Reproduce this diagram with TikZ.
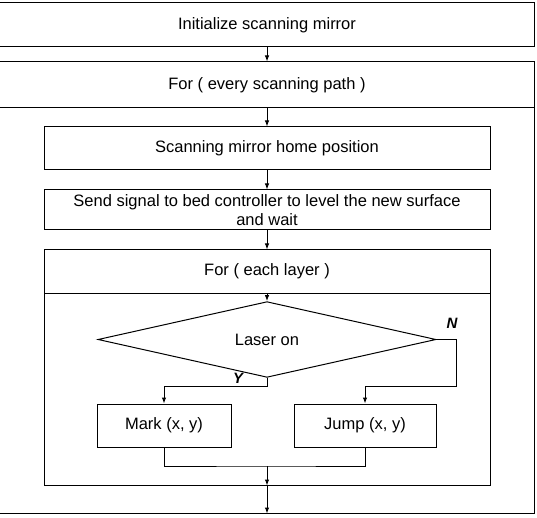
\documentclass[tikz,border=0pt]{standalone}
\usepackage{fontspec}
\setmainfont{Liberation Sans}
\usetikzlibrary{arrows.meta,shapes.geometric}

\begin{document}
\begin{tikzpicture}[x=1pt, y=1pt, font=\fontsize{16.5}{19.5}\selectfont,
  >={Latex[length=6pt,width=4.5pt]}, line width=1pt,
  box/.style={draw, rectangle, inner sep=0pt, align=center},
  decision/.style={draw, diamond, inner sep=0pt},
  branch/.style={font=\fontsize{15}{18}\selectfont\bfseries\itshape}]
\useasboundingbox (0,0) rectangle (537,517);
% outer loop
\node[box, minimum width=535, minimum height=44] (init) at (267,492) {Initialize scanning mirror};
\node[box, minimum width=535, minimum height=451] (pathbody) at (267,229.5) {};
\node[box, minimum width=535, minimum height=46] (pathhead) at (267,432) {For ( every scanning path )};
\node[box, minimum width=446, minimum height=43] (home) at (267,368.5) {Scanning mirror home position};
\node[box, minimum width=446, minimum height=40] (send) at (267,307)
  {Send signal to bed controller to level the new surface\\and wait};
% inner loop
\node[box, minimum width=446, minimum height=235] (layerbody) at (267,149.5) {};
\node[box, minimum width=446, minimum height=43] (layerhead) at (267,245.5) {For ( each layer )};
\node[decision, minimum width=338, minimum height=55] (laser) at (267,177.5) {Laser on};
\node[box, minimum width=134, minimum height=43] (mark) at (164,91.5) {Mark (x, y)};
\node[box, minimum width=142, minimum height=43] (jump) at (365,91.5) {Jump (x, y)};
\coordinate (split) at (267,131);
\coordinate (nturn) at (456,131);
\coordinate (join) at (267,51);
\node[branch] (ylab) at (238,139) {Y};
\node[branch] (nlab) at (452,194) {N};
% connectors
\draw[->] (init) -- (pathhead);
\draw[->] (pathhead) -- (home);
\draw[->] (home) -- (send);
\draw[->] (send) -- (layerhead);
\draw[->] (layerhead) -- (laser);
\draw[->] (laser.south) -- (split) -| (mark.north);
\draw[->] (laser.east) -| (nturn) -| (jump.north);
\draw (mark.south) |- (join) -| (jump.south);
\draw[->] (join) -- (layerbody.south);
\draw[->] (layerbody.south) -- (pathbody.south);
\end{tikzpicture}
\end{document}
